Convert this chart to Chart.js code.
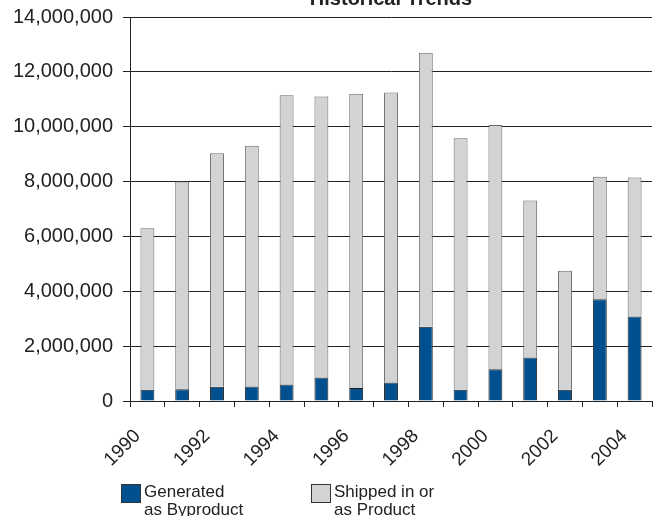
<!DOCTYPE html>
<html>
<head>
<meta charset="utf-8">
<script src="https://cdn.jsdelivr.net/npm/chart.js@4/dist/chart.umd.min.js"></script>
<style>
	html, body { margin: 0; padding: 0; background: #fff; }
	#wrap { position: relative; width: 659px; height: 516px; }
</style>
</head>
<body>
<div id="wrap"><canvas id="trends" width="659" height="516"></canvas></div>
<script>
const years = ['1990', '1991', '1992', '1993', '1994', '1995', '1996', '1997', '1998', '1999', '2000', '2001', '2002', '2003', '2004']
const generated = [410000, 430000, 520000, 530000, 600000, 860000, 470000, 670000, 2710000, 410000, 1160000, 1590000, 410000, 3710000, 3080000]
const shipped = [5890000, 7570000, 8510000, 8780000, 10550000, 10240000, 10730000, 10580000, 9990000, 9170000, 8900000, 5720000, 4340000, 4470000, 5070000]
const seriesNames = [['Generated', 'as Byproduct'], ['Shipped in or', 'as Product']]
const chartTitle = 'Historical Trends'

const FONT = "'Liberation Sans', Arial, sans-serif"
const INK = '#222'

//title sits mostly above the canvas, centred on the plot
const titlePlugin = {
	id: 'cutTitle',
	afterDraw: chart => {
		const { ctx, chartArea } = chart
		ctx.save()
		ctx.font = `bold 20px ${FONT}`
		ctx.fillStyle = INK
		ctx.textAlign = 'center'
		ctx.textBaseline = 'alphabetic'
		ctx.fillText(chartTitle, (chartArea.left + chartArea.right) / 2, 5)
		ctx.restore()
	},
}

//two line legend entries under the axis
const legendPlugin = {
	id: 'twoLineLegend',
	afterDraw: chart => {
		const { ctx } = chart
		const spots = [121, 311]
		ctx.save()
		ctx.font = `17px ${FONT}`
		ctx.textAlign = 'left'
		ctx.textBaseline = 'alphabetic'
		chart.data.datasets.forEach((ds, i) => {
			const x = spots[i]
			ctx.fillStyle = ds.backgroundColor
			ctx.fillRect(x + 0.5, 484.5, 19, 18)
			ctx.strokeStyle = '#333'
			ctx.lineWidth = 1
			ctx.strokeRect(x + 0.5, 484.5, 19, 18)
			ctx.fillStyle = INK
			ds.legendLines.forEach((line, j) => {
				ctx.fillText(line, x + 23, 497 + j * 18)
			})
		})
		ctx.restore()
	},
}

const ctx = document.querySelector('#trends').getContext('2d')

new Chart(ctx, {
	type: 'bar',
	data: {
		labels: years,
		datasets: [
			{
				label: seriesNames[0].join(' '),
				legendLines: seriesNames[0],
				data: generated,
				backgroundColor: '#00508f',
				borderColor: '#1e1e1e',
				borderWidth: 1,
				barPercentage: 0.4,
				categoryPercentage: 1,
			},
			{
				label: seriesNames[1].join(' '),
				legendLines: seriesNames[1],
				data: shipped,
				backgroundColor: '#d1d3d4',
				borderColor: '#6a6a6a',
				borderWidth: 1,
				barPercentage: 0.4,
				categoryPercentage: 1,
			},
		],
	},
	options: {
		responsive: false,
		animation: false,
		layout: { padding: { top: 17, right: 7, left: 0, bottom: 0 } },
		plugins: {
			legend: { display: false },
			title: { display: false },
			tooltip: { enabled: false },
		},
		scales: {
			x: {
				stacked: true,
				afterFit: scale => {
					scale.height = 115
					scale.paddingLeft = 0
					scale.paddingRight = 0
				},
				border: { display: true, color: INK, width: 1 },
				grid: {
					display: true,
					offset: true,
					drawOnChartArea: false,
					drawTicks: true,
					tickLength: 6,
					color: INK,
				},
				ticks: {
					autoSkip: false,
					minRotation: 45,
					maxRotation: 45,
					labelOffset: -10,
					padding: 18,
					color: INK,
					font: { family: FONT, size: 19 },
					callback: function (v, i) {
						return i % 2 === 0 ? this.getLabelForValue(v) : ''
					},
				},
			},
			y: {
				stacked: true,
				min: 0,
				max: 14000000,
				afterFit: scale => {
					scale.width = 130
					scale.paddingTop = 0
					scale.paddingBottom = 0
				},
				border: { display: true, color: INK, width: 1 },
				grid: {
					color: INK,
					tickLength: 7,
					drawTicks: true,
				},
				ticks: {
					stepSize: 2000000,
					padding: 10,
					color: INK,
					font: { family: FONT, size: 20 },
					callback: v => v.toLocaleString('en-US'),
				},
			},
		},
	},
	plugins: [titlePlugin, legendPlugin],
})
</script>
</body>
</html>
